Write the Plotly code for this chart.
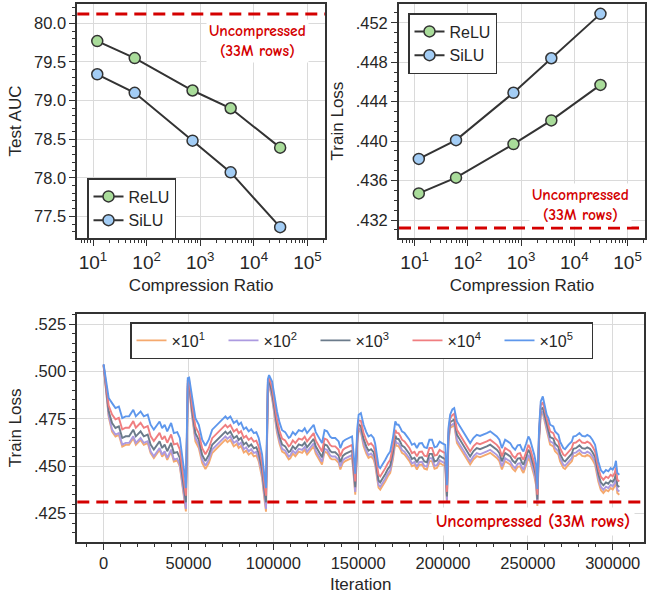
import plotly.graph_objects as go

# ---------------- data: top panels ----------------
ratios = [12, 60, 720, 3700, 31000]
auc_relu = [79.77, 79.55, 79.13, 78.90, 78.39]
auc_silu = [79.34, 79.10, 78.48, 78.07, 77.36]
loss_relu = [0.4347, 0.4363, 0.4397, 0.4421, 0.4457]
loss_silu = [0.4382, 0.4401, 0.4449, 0.4484, 0.4529]
auc_uncompressed = 80.12
loss_uncompressed = 0.4312

log_tick_vals = [10, 100, 1000, 10000, 100000]
log_tick_text = ["10<sup>1</sup>", "10<sup>2</sup>", "10<sup>3</sup>", "10<sup>4</sup>", "10<sup>5</sup>"]
auc_tick_vals = [77.5, 78.0, 78.5, 79.0, 79.5, 80.0]
auc_tick_text = ["77.5", "78.0", "78.5", "79.0", "79.5", "80.0"]
loss_tick_vals = [0.432, 0.436, 0.440, 0.444, 0.448, 0.452]
loss_tick_text = [".432", ".436", ".440", ".444", ".448", ".452"]
curve_tick_vals = [0.425, 0.450, 0.475, 0.500, 0.525]
curve_tick_text = [".425", ".450", ".475", ".500", ".525"]

# ---------------- data: training curves ----------------
iterations = [
    0, 1500, 3000, 5000, 7000, 9000, 11000, 13000, 15000, 17500, 19000, 21800, 23700, 26000,
    27700, 29600, 31000, 33000, 34500, 36000, 37500, 39800, 41400, 43400, 44900, 46300, 47300,
    48000, 48500, 49600, 50400, 52200, 54100, 56100, 58100, 60000, 62000, 64000, 66900, 69000,
    71800, 73000, 74700, 76700, 78500, 79600, 81000, 82600, 84000, 85500, 87000, 88500, 90000,
    91400, 93400, 94500, 95000, 95700, 96800, 97500, 99300, 101000, 102200, 103700, 105200,
    107000, 109100, 110000, 111500, 113000, 115000, 117000, 118500, 119900, 121800, 123800,
    125000, 125800, 127000, 128700, 130200, 131700, 133600, 134600, 136500, 138500, 139500,
    141000, 142400, 144400, 146400, 147300, 147800, 148300, 149500, 150300, 151600, 153200,
    154800, 156100, 157600, 159100, 160000, 161100, 162000, 163000, 164500, 166000, 167500,
    168900, 170500, 171900, 172800, 173800, 175000, 175800, 177300, 178800, 180200, 181700,
    183200, 184600, 186000, 187600, 189000, 190500, 192000, 193500, 195000, 196400, 198000,
    199400, 201300, 201800, 202300, 203200, 204200, 205500, 206600, 208200, 210000, 212100,
    214000, 216000, 218000, 219900, 221800, 223800, 225800, 227800, 229700, 231700, 233200,
    234700, 236600, 238000, 239600, 241000, 242500, 244000, 245400, 246500, 247400, 249000,
    250300, 251300, 252300, 253800, 254900, 255600, 256600, 257600, 258800, 260000, 261100,
    262100, 263100, 265000, 266000, 268000, 269000, 270900, 271900, 273900, 275900, 276800,
    278300, 280400, 282000, 283700, 285000, 286600, 288000, 289600, 290500, 291500, 293000,
    294500, 296000, 297400, 298800, 300000, 301200, 301900, 302700, 303900,
]

loss_x1e5 = [
    .5039, .4950, .4860, .4833, .4807, .4815, .4754, .4763, .4763, .4798, .4763, .4789, .4763, .4772,
    .4719, .4693, .4710, .4736, .4701, .4719, .4684, .4728, .4675, .4680, .4649, .4561, .4500,
    .4440, .4385, .4965, .4968, .4860, .4754, .4719, .4640, .4608, .4640, .4693, .4719, .4740,
    .4763, .4750, .4763, .4728, .4740, .4719, .4730, .4695, .4705, .4684, .4695, .4675, .4680,
    .4649, .4561, .4470, .4420, .4385, .4960, .4981, .4947, .4850, .4789, .4730, .4690,
    .4680, .4649, .4655, .4680, .4666, .4690, .4684, .4700, .4675, .4695, .4719,
    .4680, .4666, .4650, .4622, .4690, .4684, .4655, .4649, .4649, .4631, .4596,
    .4630, .4640, .4649, .4657, .4570, .4500, .4460, .4700, .4772, .4780, .4719,
    .4680, .4657, .4665, .4649, .4620, .4543, .4500, .4490, .4510, .4534, .4560,
    .4578, .4650, .4736, .4720, .4719, .4700, .4684, .4675, .4657, .4640, .4613,
    .4620, .4596, .4620, .4622, .4600, .4596, .4640, .4640, .4600, .4604, .4630,
    .4622, .4613, .4520, .4400, .4700, .4772, .4800, .4807, .4736, .4710, .4684,
    .4650, .4622, .4650, .4666, .4660, .4666, .4675, .4684, .4670, .4657, .4640,
    .4596, .4640, .4630, .4622, .4600, .4587, .4610, .4613, .4590, .4578, .4620,
    .4657, .4640, .4613, .4560, .4508, .4380, .4700, .4842, .4868, .4820, .4772,
    .4754, .4719, .4710, .4684, .4666, .4630, .4596, .4590, .4613, .4631, .4657,
    .4660, .4675, .4660, .4657, .4665, .4657, .4640, .4613, .4570, .4525, .4480,
    .4464, .4480, .4473, .4490, .4482, .4500, .4529, .4464, .4455,
]

loss_x1e4 = [
    .5036, .4930, .4820, .4773, .4747, .4755, .4694, .4703, .4703, .4738, .4703, .4729, .4703, .4712,
    .4659, .4633, .4650, .4676, .4641, .4659, .4624, .4668, .4615, .4620, .4589, .4501, .4440,
    .4385, .4345, .4950, .4953, .4820, .4709, .4674, .4595, .4563, .4595, .4648, .4674, .4695,
    .4718, .4705, .4718, .4683, .4695, .4674, .4685, .4650, .4660, .4639, .4650, .4630, .4635,
    .4604, .4516, .4425, .4380, .4345, .4945, .4966, .4917, .4806, .4745, .4686, .4646,
    .4636, .4605, .4611, .4636, .4622, .4646, .4640, .4656, .4631, .4651, .4675,
    .4636, .4622, .4606, .4578, .4646, .4640, .4611, .4605, .4605, .4587, .4552,
    .4586, .4596, .4605, .4613, .4526, .4456, .4420, .4670, .4742, .4740, .4675,
    .4636, .4613, .4621, .4605, .4576, .4499, .4456, .4446, .4466, .4490, .4516,
    .4534, .4606, .4692, .4676, .4675, .4656, .4640, .4631, .4613, .4596, .4569,
    .4576, .4552, .4576, .4578, .4556, .4552, .4596, .4596, .4556, .4560, .4586,
    .4578, .4569, .4476, .4365, .4680, .4752, .4770, .4777, .4692, .4666, .4640,
    .4606, .4578, .4606, .4622, .4616, .4622, .4631, .4640, .4626, .4613, .4596,
    .4552, .4596, .4586, .4578, .4556, .4543, .4566, .4569, .4546, .4534, .4576,
    .4613, .4596, .4569, .4516, .4464, .4350, .4680, .4822, .4838, .4790, .4742,
    .4719, .4684, .4675, .4649, .4631, .4595, .4561, .4555, .4578, .4596, .4622,
    .4625, .4640, .4625, .4622, .4630, .4622, .4605, .4578, .4535, .4490, .4445,
    .4429, .4445, .4438, .4455, .4447, .4465, .4494, .4429, .4420,
]

loss_x1e3 = [
    .5034, .4910, .4790, .4728, .4702, .4710, .4649, .4658, .4658, .4693, .4658, .4684, .4658, .4667,
    .4614, .4588, .4605, .4631, .4596, .4614, .4579, .4623, .4570, .4575, .4544, .4456, .4395,
    .4345, .4310, .4935, .4938, .4790, .4674, .4639, .4560, .4528, .4560, .4613, .4639, .4660,
    .4683, .4670, .4683, .4648, .4660, .4639, .4650, .4615, .4625, .4604, .4615, .4595, .4600,
    .4569, .4481, .4390, .4345, .4310, .4930, .4951, .4887, .4775, .4714, .4655, .4615,
    .4605, .4574, .4580, .4605, .4591, .4615, .4609, .4625, .4600, .4620, .4644,
    .4605, .4591, .4575, .4547, .4615, .4609, .4580, .4574, .4574, .4556, .4521,
    .4555, .4565, .4574, .4582, .4495, .4425, .4390, .4650, .4722, .4710, .4644,
    .4605, .4582, .4590, .4574, .4545, .4468, .4425, .4415, .4435, .4459, .4485,
    .4503, .4575, .4661, .4645, .4644, .4625, .4609, .4600, .4582, .4565, .4538,
    .4545, .4521, .4545, .4547, .4525, .4521, .4565, .4565, .4525, .4529, .4555,
    .4547, .4538, .4445, .4340, .4660, .4732, .4740, .4747, .4666, .4640, .4614,
    .4580, .4552, .4580, .4596, .4590, .4596, .4605, .4614, .4600, .4587, .4570,
    .4526, .4570, .4560, .4552, .4530, .4517, .4540, .4543, .4520, .4508, .4550,
    .4587, .4570, .4543, .4490, .4438, .4325, .4660, .4802, .4808, .4760, .4712,
    .4689, .4654, .4645, .4619, .4601, .4565, .4531, .4525, .4548, .4566, .4592,
    .4595, .4610, .4595, .4592, .4600, .4592, .4575, .4548, .4505, .4460, .4415,
    .4399, .4415, .4408, .4425, .4417, .4435, .4464, .4399, .4390,
]

loss_x1e2 = [
    .5031, .4900, .4770, .4693, .4667, .4675, .4614, .4623, .4623, .4658, .4623, .4649, .4623, .4632,
    .4579, .4553, .4570, .4596, .4561, .4579, .4544, .4588, .4535, .4540, .4509, .4421, .4360,
    .4310, .4275, .4920, .4923, .4770, .4649, .4614, .4535, .4503, .4535, .4588, .4614, .4635,
    .4658, .4645, .4658, .4623, .4635, .4614, .4625, .4590, .4600, .4579, .4590, .4570, .4575,
    .4544, .4456, .4365, .4315, .4275, .4915, .4936, .4867, .4752, .4691, .4632, .4592,
    .4582, .4551, .4557, .4582, .4568, .4592, .4586, .4602, .4577, .4597, .4621,
    .4582, .4568, .4552, .4524, .4592, .4586, .4557, .4551, .4551, .4533, .4498,
    .4532, .4542, .4551, .4559, .4472, .4402, .4365, .4630, .4702, .4690, .4621,
    .4582, .4559, .4567, .4551, .4522, .4445, .4402, .4392, .4412, .4436, .4462,
    .4480, .4552, .4638, .4622, .4621, .4602, .4586, .4577, .4559, .4542, .4515,
    .4522, .4498, .4522, .4524, .4502, .4498, .4542, .4542, .4502, .4506, .4532,
    .4524, .4515, .4422, .4320, .4640, .4712, .4720, .4727, .4639, .4613, .4587,
    .4553, .4525, .4553, .4569, .4563, .4569, .4578, .4587, .4573, .4560, .4543,
    .4499, .4543, .4533, .4525, .4503, .4490, .4513, .4516, .4493, .4481, .4523,
    .4560, .4543, .4516, .4463, .4411, .4300, .4640, .4782, .4788, .4740, .4692,
    .4666, .4631, .4622, .4596, .4578, .4542, .4508, .4502, .4525, .4543, .4569,
    .4572, .4587, .4572, .4569, .4577, .4569, .4552, .4525, .4482, .4437, .4392,
    .4376, .4392, .4385, .4402, .4394, .4412, .4441, .4376, .4367,
]

loss_x1e1 = [
    .5029, .4890, .4760, .4683, .4657, .4665, .4604, .4613, .4613, .4648, .4613, .4639, .4613, .4622,
    .4569, .4543, .4560, .4586, .4551, .4569, .4534, .4578, .4525, .4530, .4499, .4411, .4350,
    .4300, .4262, .4910, .4913, .4760, .4631, .4596, .4517, .4485, .4517, .4570, .4596, .4617,
    .4640, .4627, .4640, .4605, .4617, .4596, .4607, .4572, .4582, .4561, .4572, .4552, .4557,
    .4526, .4438, .4347, .4300, .4260, .4905, .4926, .4857, .4737, .4676, .4617, .4577,
    .4567, .4536, .4542, .4567, .4553, .4577, .4571, .4587, .4562, .4582, .4606,
    .4567, .4553, .4537, .4509, .4577, .4571, .4542, .4536, .4536, .4518, .4483,
    .4517, .4527, .4536, .4544, .4457, .4387, .4350, .4620, .4692, .4680, .4606,
    .4567, .4544, .4552, .4536, .4507, .4430, .4387, .4377, .4397, .4421, .4447,
    .4465, .4537, .4623, .4607, .4606, .4587, .4571, .4562, .4544, .4527, .4500,
    .4507, .4483, .4507, .4509, .4487, .4483, .4527, .4527, .4487, .4491, .4517,
    .4509, .4500, .4407, .4310, .4630, .4702, .4710, .4717, .4623, .4597, .4571,
    .4537, .4509, .4537, .4553, .4547, .4553, .4562, .4571, .4557, .4544, .4527,
    .4483, .4527, .4517, .4509, .4487, .4474, .4497, .4500, .4477, .4465, .4507,
    .4544, .4527, .4500, .4447, .4395, .4290, .4630, .4772, .4778, .4730, .4682,
    .4649, .4614, .4605, .4579, .4561, .4525, .4491, .4485, .4508, .4526, .4552,
    .4555, .4570, .4555, .4552, .4560, .4552, .4535, .4508, .4465, .4420, .4375,
    .4359, .4375, .4368, .4385, .4377, .4395, .4424, .4359, .4350,
]

curve_names = ["×10<sup>1</sup>", "×10<sup>2</sup>", "×10<sup>3</sup>", "×10<sup>4</sup>", "×10<sup>5</sup>"]
curve_series = [loss_x1e1, loss_x1e2, loss_x1e3, loss_x1e4, loss_x1e5]
curve_colors = ["#f5a96e", "#ac9ae0", "#6b7b8b", "#f07e80", "#5e97ec"]

# ---------------- figure ----------------
W, H = 652, 596
FONT = "Liberation Sans, Arial, Helvetica, sans-serif"
DARK = "#333333"
RED = "#d40000"
GREEN = "#a9dc9a"
BLUE = "#a3cdf5"


def px_x(p):
    return p / W


def px_y(p):
    return 1 - p / H


fig = go.Figure()

for name, ys, fill in [("ReLU", auc_relu, GREEN), ("SiLU", auc_silu, BLUE)]:
    fig.add_trace(go.Scatter(
        x=ratios, y=ys, name=name, mode="lines+markers",
        line=dict(color=DARK, width=2),
        marker=dict(size=11, color=fill, line=dict(color=DARK, width=1.5)),
        xaxis="x", yaxis="y", legend="legend"))

for name, ys, fill in [("ReLU", loss_relu, GREEN), ("SiLU", loss_silu, BLUE)]:
    fig.add_trace(go.Scatter(
        x=ratios, y=ys, name=name, mode="lines+markers",
        line=dict(color=DARK, width=2),
        marker=dict(size=11, color=fill, line=dict(color=DARK, width=1.5)),
        xaxis="x2", yaxis="y2", legend="legend2"))

for name, ys, col in zip(curve_names, curve_series, curve_colors):
    fig.add_trace(go.Scatter(
        x=iterations, y=ys, name=name, mode="lines",
        line=dict(color=col, width=1.9),
        xaxis="x3", yaxis="y3", legend="legend3"))

dash_line = dict(color=RED, width=3, dash="12px,7px")
fig.add_shape(type="line", xref="x domain", yref="y", x0=0, x1=1,
              y0=auc_uncompressed, y1=auc_uncompressed, line=dash_line, layer="above")
fig.add_shape(type="line", xref="x2 domain", yref="y2", x0=0, x1=1,
              y0=loss_uncompressed, y1=loss_uncompressed, line=dash_line, layer="above")
fig.add_shape(type="line", xref="x3 domain", yref="y3", x0=0, x1=1,
              y0=loss_uncompressed, y1=loss_uncompressed, line=dash_line, layer="above")

ann_family = "Comic Sans MS, Comic Neue, DejaVu Sans, sans-serif"
fig.add_annotation(text="<b>Uncompressed<br>(33M rows)</b>", xref="paper", yref="paper",
                   x=px_x(257), y=px_y(41), xanchor="center", yanchor="middle",
                   showarrow=False, font=dict(family=ann_family, size=15.5, color=RED),
                   bgcolor="white", borderpad=2)
fig.add_annotation(text="<b>Uncompressed<br>(33M rows)</b>", xref="paper", yref="paper",
                   x=px_x(580), y=px_y(205), xanchor="center", yanchor="middle",
                   showarrow=False, font=dict(family=ann_family, size=15.5, color=RED),
                   bgcolor="white", borderpad=2)
fig.add_annotation(text="<b>Uncompressed (33M rows)</b>", xref="paper", yref="paper",
                   x=px_x(533), y=px_y(521), xanchor="center", yanchor="middle",
                   showarrow=False, font=dict(family=ann_family, size=17, color=RED),
                   bgcolor="white", borderpad=4)

tick_font = dict(family=FONT, size=16.5, color="#262626")
title_font = dict(family=FONT, size=17, color="#262626")
axis_common = dict(
    showline=True, linecolor=DARK, linewidth=1.8, mirror=True,
    ticks="outside", ticklen=6, tickwidth=1.3, tickcolor=DARK,
    showgrid=True, gridcolor="#dadada", gridwidth=1, zeroline=False,
    tickfont=tick_font, title_font=title_font, automargin=False,
)
minor_common = dict(ticks="outside", ticklen=3, tickwidth=1, tickcolor=DARK, showgrid=False)

top_y_dom = [px_y(238), px_y(4)]
bot_y_dom = [px_y(541.7), px_y(314)]
legend_font = dict(family=FONT, size=16, color="#262626")

fig.update_layout(
    width=W, height=H, margin=dict(l=0, r=0, t=0, b=0, autoexpand=False),
    paper_bgcolor="white", plot_bgcolor="white",
    font=dict(family=FONT, size=16, color="#262626"),
    xaxis=dict(axis_common, type="log", range=[0.707, 5.328], domain=[px_x(77.3), px_x(325)],
               anchor="y", tickmode="array", tickvals=log_tick_vals, ticktext=log_tick_text,
               tickfont=dict(family=FONT, size=19, color="#262626"),
               minor=dict(minor_common, dtick="D1"),
               title=dict(text="Compression Ratio", standoff=7)),
    yaxis=dict(axis_common, range=[77.22, 80.25], domain=top_y_dom, anchor="x",
               tickmode="array", tickvals=auc_tick_vals, ticktext=auc_tick_text,
               minor=dict(minor_common, dtick=0.1, tick0=77.5),
               title=dict(text="Test AUC", standoff=8)),
    xaxis2=dict(axis_common, type="log", range=[0.707, 5.328], domain=[px_x(399), px_x(645)],
                anchor="y2", tickmode="array", tickvals=log_tick_vals, ticktext=log_tick_text,
                tickfont=dict(family=FONT, size=19, color="#262626"),
                minor=dict(minor_common, dtick="D1"),
                title=dict(text="Compression Ratio", standoff=7)),
    yaxis2=dict(axis_common, range=[0.43018, 0.45390], domain=top_y_dom, anchor="x2",
                tickmode="array", tickvals=loss_tick_vals, ticktext=loss_tick_text,
                minor=dict(minor_common, dtick=0.001, tick0=0.432),
                title=dict(text="Train Loss", standoff=8)),
    xaxis3=dict(axis_common, range=[-15490, 318430], domain=[px_x(77.3), px_x(644)],
                anchor="y3", dtick=50000, tick0=0, tickformat="d",
                minor=dict(minor_common, dtick=10000, tick0=0),
                title=dict(text="Iteration", standoff=7)),
    yaxis3=dict(axis_common, range=[0.4102, 0.5303], domain=bot_y_dom, anchor="x3",
                tickmode="array", tickvals=curve_tick_vals, ticktext=curve_tick_text,
                minor=dict(minor_common, dtick=0.005, tick0=0.425),
                title=dict(text="Train Loss", standoff=8)),
    legend=dict(x=px_x(87), y=px_y(178), xanchor="left", yanchor="top",
                bgcolor="white", bordercolor=DARK, borderwidth=1.5,
                font=legend_font, tracegroupgap=2),
    legend2=dict(x=px_x(408), y=px_y(13), xanchor="left", yanchor="top",
                 bgcolor="white", bordercolor=DARK, borderwidth=1.5,
                 font=legend_font, tracegroupgap=2),
    legend3=dict(x=px_x(130), y=px_y(322), xanchor="left", yanchor="top",
                 orientation="h", bgcolor="white", bordercolor=DARK, borderwidth=1.5,
                 entrywidth=47, entrywidthmode="pixels",
                 font=legend_font),
    showlegend=True,
)

# remove the browser's default 8px body margin so the figure sits at the window corner
fig.write_html("out.html", config={"displayModeBar": False},
               post_script="document.body.style.margin='0';")
